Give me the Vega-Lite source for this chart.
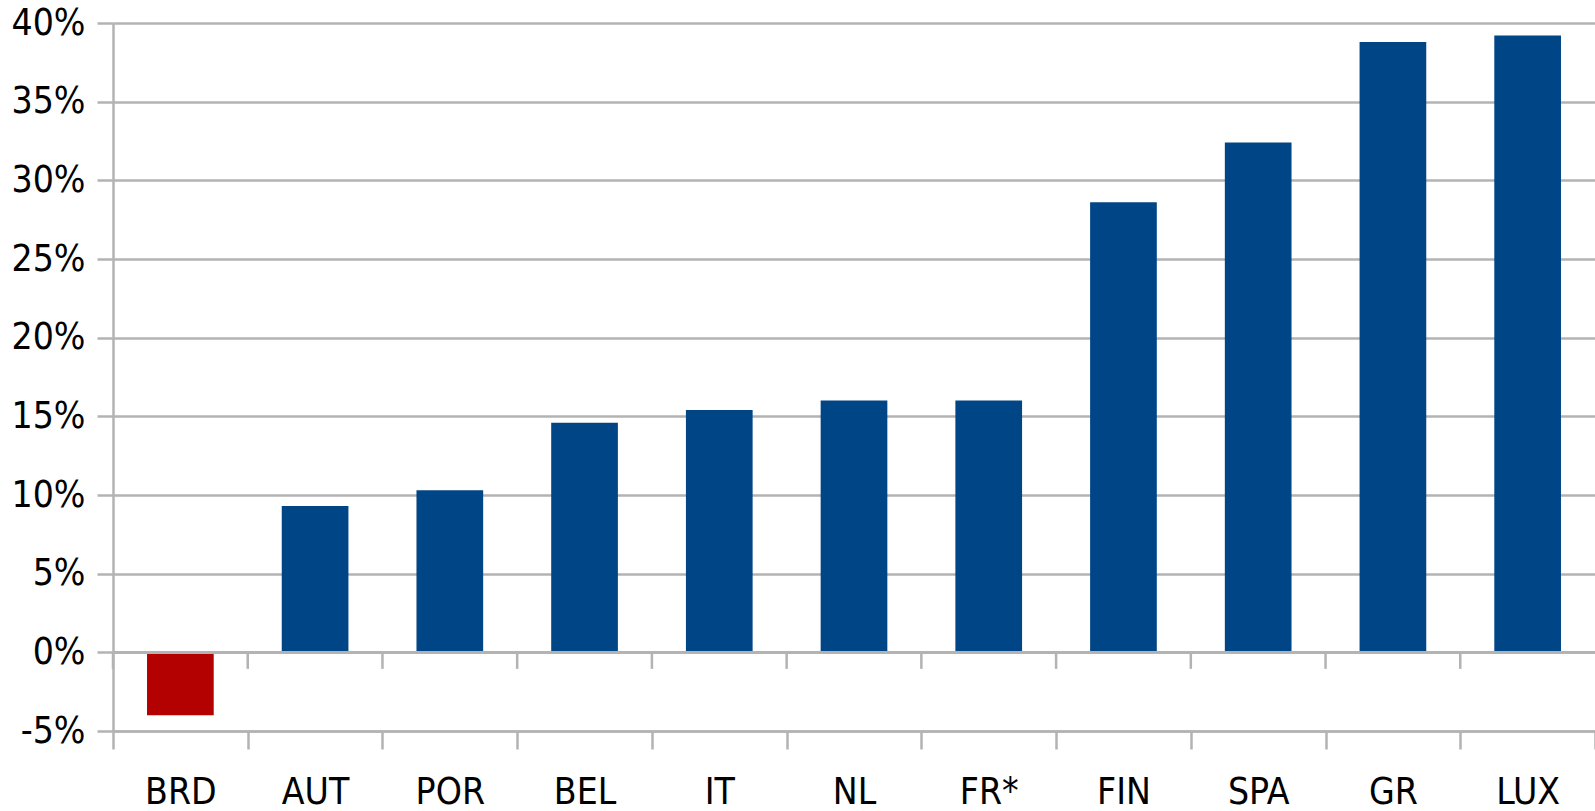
{
  "$schema": "https://vega.github.io/schema/vega-lite/v6.json",
  "autosize": "none",
  "padding": {"left": 113, "top": 23, "right": 0, "bottom": 80},
  "width": 1482,
  "height": 708,
  "background": "white",
  "config": {
    "view": {"stroke": null},
    "font": "Liberation Sans Narrow",
    "axis": {
      "labelFont": "Liberation Sans Narrow, DejaVu Sans Condensed, sans-serif",
      "labelFontSize": 37,
      "labelColor": "#000000",
      "domainColor": "#b3b3b3",
      "domainWidth": 2.5,
      "tickColor": "#b3b3b3",
      "tickWidth": 2.5,
      "gridColor": "#b3b3b3",
      "gridWidth": 2.5
    }
  },
  "data": {
    "values": [
      {"country": "BRD", "value": -4.0},
      {"country": "AUT", "value": 9.3},
      {"country": "POR", "value": 10.3},
      {"country": "BEL", "value": 14.6},
      {"country": "IT", "value": 15.4},
      {"country": "NL", "value": 16.0},
      {"country": "FR*", "value": 16.0},
      {"country": "FIN", "value": 28.6},
      {"country": "SPA", "value": 32.4},
      {"country": "GR", "value": 38.8},
      {"country": "LUX", "value": 39.2}
    ]
  },
  "layer": [
    {
      "mark": {"type": "bar", "width": {"band": 0.495}},
      "encoding": {
        "x": {
          "field": "country",
          "type": "nominal",
          "sort": null,
          "title": null,
          "scale": {"paddingInner": 0, "paddingOuter": 0},
          "axis": {
            "labelAngle": 0,
            "tickBand": "extent",
            "tickSize": 18,
            "labelPadding": 25,
            "grid": false
          }
        },
        "y": {
          "field": "value",
          "type": "quantitative",
          "title": null,
          "scale": {"domain": [-5, 40], "nice": false, "zero": false},
          "axis": {
            "values": [-5, 0, 5, 10, 15, 20, 25, 30, 35, 40],
            "labelExpr": "datum.value + '%'",
            "tickSize": 16,
            "labelPadding": 12,
            "grid": true
          }
        },
        "color": {
          "condition": {"test": "datum.value < 0", "value": "#b30000"},
          "value": "#004586"
        }
      }
    },
    {
      "mark": {"type": "rule", "color": "#b3b3b3", "strokeWidth": 2.5},
      "encoding": {
        "x": {"field": "country", "type": "nominal", "sort": null, "bandPosition": 0},
        "y": {"datum": 0},
        "y2": {"datum": -1.05}
      }
    },
    {
      "mark": {"type": "rule", "color": "#b3b3b3", "strokeWidth": 2.5},
      "encoding": {
        "y": {"datum": 0}
      }
    }
  ]
}
